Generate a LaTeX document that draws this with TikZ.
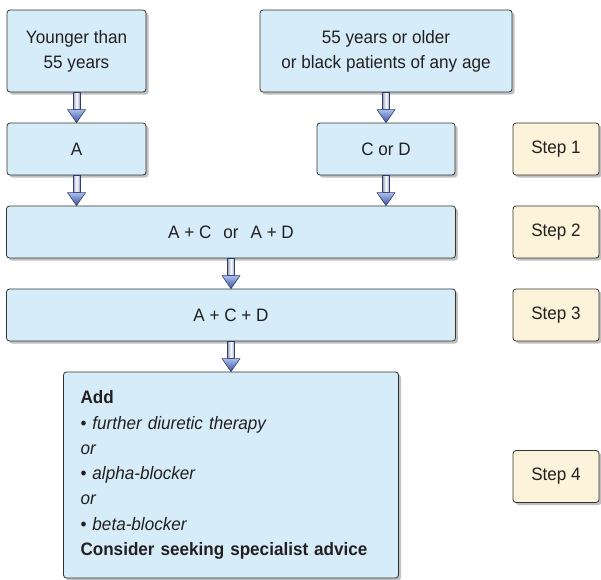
\documentclass[tikz,border=0pt]{standalone}
\usepackage{fontspec}
\setmainfont{Liberation Sans}[FakeStretch=0.95]
\usepackage{xcolor}
\usepackage{tikz}
\usetikzlibrary{calc,shadows}

\definecolor{boxblue}{RGB}{214,236,249}
\definecolor{boxcream}{RGB}{253,243,218}
\definecolor{boxline}{RGB}{50,50,50}
\definecolor{inktext}{RGB}{35,31,32}
\definecolor{shaftside}{RGB}{150,160,200}
\definecolor{headtop}{RGB}{170,190,236}
\definecolor{headbot}{RGB}{55,82,162}
\definecolor{arrowline}{RGB}{50,60,105}

\newcommand{\flowarrow}[2]{%
  \coordinate (fa-s) at (#1);
  \coordinate (fa-e) at (#2);
  \shade[left color=shaftside,right color=shaftside,middle color=white,draw=arrowline,line width=0.6pt]
    ($(fa-s)+(-3.5,0)$) rectangle ($(fa-e)+(3.5,13)$);
  \shade[top color=headtop,bottom color=headbot,draw=arrowline,line width=0.6pt,line join=round]
    ($(fa-e)+(-9,13)$) -- (fa-e) -- ($(fa-e)+(9,13)$) -- cycle;
}

\begin{document}
\begin{tikzpicture}[x=1pt,y=1pt,
  bluebox/.style={draw=boxline,fill=boxblue,rounded corners=3pt,line width=0.8pt,text=inktext,
    font=\fontsize{18}{25}\selectfont,align=center,inner sep=0pt,
    drop shadow={shadow xshift=2.5pt,shadow yshift=-2.5pt,opacity=.45,fill=black!55}},
  stepbox/.style={bluebox,fill=boxcream,minimum width=86pt,minimum height=52pt}]
  \useasboundingbox (0,0) rectangle (601,-579);
  \node[bluebox,minimum width=139pt,minimum height=82pt] (young) at (76.5,-51) {Younger than\\55 years};
  \node[bluebox,minimum width=252pt,minimum height=82pt] (older) at (386,-51) {55 years or older\\or black patients of any age};
  \node[bluebox,minimum width=139pt,minimum height=52pt] (drugA) at (76.5,-149) {A};
  \node[bluebox,minimum width=138pt,minimum height=52pt] (drugCD) at (386,-149) {C or D};
  \node[bluebox,minimum width=449pt,minimum height=52pt] (comboAC) at (231,-232) {A + C\hspace{12pt}or\hspace{12pt}A + D};
  \node[bluebox,minimum width=449pt,minimum height=52pt] (comboACD) at (231,-315) {A + C + D};
  \node[bluebox,minimum width=335pt,minimum height=206pt,text width=301pt,inner xsep=17pt,align=left,
    font=\fontsize{18}{25.3}\selectfont] (addon) at (231,-475) {{\bfseries Add}\\
    • \textit{further diuretic therapy}\\
    \textit{or}\\
    • \textit{alpha-blocker}\\
    \textit{or}\\
    • \textit{beta-blocker}\\
    {\bfseries Consider seeking specialist advice}};
  \node[stepbox] (step1) at (556,-149) {Step 1};
  \node[stepbox] (step2) at (556,-232) {Step 2};
  \node[stepbox] (step3) at (556,-315) {Step 3};
  \node[stepbox] (step4) at (556,-476.5) {Step 4};
  \flowarrow{young.south}{drugA.north}
  \flowarrow{older.south}{drugCD.north}
  \flowarrow{drugA.south}{drugA.south |- comboAC.north}
  \flowarrow{drugCD.south}{drugCD.south |- comboAC.north}
  \flowarrow{comboAC.south}{comboACD.north}
  \flowarrow{comboACD.south}{addon.north}
\end{tikzpicture}
\end{document}
